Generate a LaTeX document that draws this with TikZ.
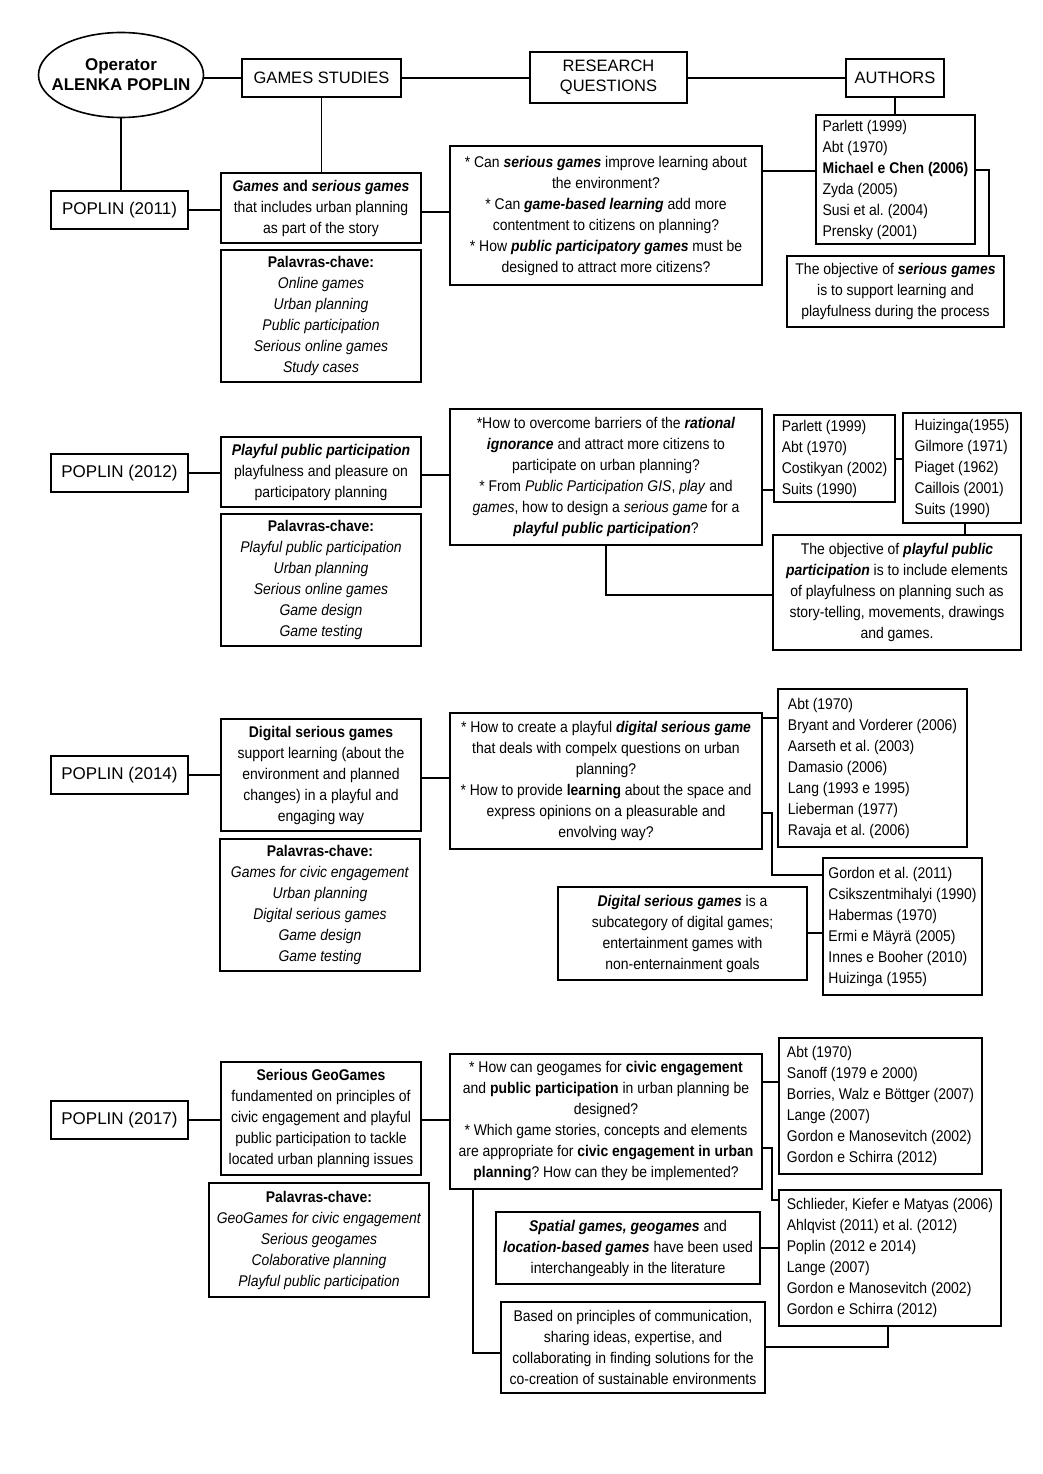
\documentclass[tikz,border=0pt]{standalone}
\usepackage{fontspec}
\setmainfont{Liberation Sans}[FakeStretch=0.9]
\newfontfamily\hdrfont{Liberation Sans}
\usetikzlibrary{shapes.geometric}
\newcommand\bi[1]{\textbf{\textit{#1}}}
\frenchspacing
\begin{document}
\begin{tikzpicture}[x=1pt,y=-1pt,
  bx/.style={draw=black,line width=1.6pt,inner sep=0pt,align=center,
    font=\fontsize{15.5}{21}\selectfont},
  lbx/.style={bx,align=left},
  hbx/.style={draw=black,line width=1.6pt,inner sep=0pt,align=center,
    font=\hdrfont\fontsize{16.5}{20}\selectfont},
  pbx/.style={hbx,minimum width=137,minimum height=38,font=\hdrfont\fontsize{17}{20}\selectfont},
  conn/.style={line width=1.6pt,draw=black}]
\fill[white] (0,0) rectangle (1043,1474);
\useasboundingbox (0,0) rectangle (1043,1474);

% header
\node[ellipse,draw=black,line width=1.6pt,minimum width=165,minimum height=85,inner sep=0pt] (op) at (121,75) {};
\node[align=center,inner sep=0pt,font=\hdrfont\bfseries\fontsize{17}{20}\selectfont] (optext) at (op.center) {Operator\\ALENKA POPLIN};
\node[hbx,minimum width=159,minimum height=38] (gs) at (321.5,78) {GAMES STUDIES};
\node[hbx,minimum width=157,minimum height=51] (rq) at (608.5,77.5) {RESEARCH\\QUESTIONS};
\node[hbx,minimum width=98,minimum height=38] (au) at (895,78) {AUTHORS};

% 2011
\node[pbx] (p11) at (119.5,210) {POPLIN (2011)};
\node[bx,minimum width=200,minimum height=70] (g11) at (321,208) {\bi{Games} \textbf{and} \bi{serious games}\\that includes urban planning\\as part of the story};
\node[bx,minimum width=200,minimum height=132] (k11) at (321,316) {\textbf{Palavras-chave:}\\\textit{Online games}\\\textit{Urban planning}\\\textit{Public participation}\\\textit{Serious online games}\\\textit{Study cases}};
\node[bx,minimum width=312,minimum height=139] (q11) at (606,215.5) {* Can \bi{serious games} improve learning about\\the environment?\\* Can \bi{game-based learning} add more\\contentment to citizens on planning?\\* How \bi{public participatory games} must be\\designed to attract more citizens?};
\node[lbx,minimum width=159,minimum height=129] (a11) at (895.5,179.5) {Parlett (1999)\\Abt (1970)\\\textbf{Michael e Chen (2006)}\\Zyda (2005)\\Susi et al. (2004)\\Prensky (2001)};
\node[bx,minimum width=217,minimum height=71] (o11) at (895.5,291.5) {The objective of \bi{serious games}\\is to support learning and\\playfulness during the process};

% 2012
\node[pbx] (p12) at (119.5,473) {POPLIN (2012)};
\node[bx,minimum width=200,minimum height=70] (g12) at (321,472) {\bi{Playful public participation}\\playfulness and pleasure on\\participatory planning};
\node[bx,minimum width=200,minimum height=132] (k12) at (321,580) {\textbf{Palavras-chave:}\\\textit{Playful public participation}\\\textit{Urban planning}\\\textit{Serious online games}\\\textit{Game design}\\\textit{Game testing}};
\node[bx,minimum width=312,minimum height=136] (q12) at (606,477) {*How to overcome barriers of the \bi{rational}\\\bi{ignorance} and attract more citizens to\\participate on urban planning?\\* From \textit{Public Participation GIS}, \textit{play} and\\\textit{games}, how to design a \textit{serious game} for a\\\bi{playful public participation}?};
\node[lbx,minimum width=121,minimum height=87] (a12a) at (834.5,458.5) {Parlett (1999)\\Abt (1970)\\Costikyan (2002)\\Suits (1990)};
\node[lbx,minimum width=118,minimum height=110] (a12b) at (962,468) {Huizinga(1955)\\Gilmore (1971)\\Piaget (1962)\\Caillois (2001)\\Suits (1990)};
\node[bx,minimum width=248,minimum height=115] (o12) at (897,592.5) {The objective of \bi{playful public}\\\bi{participation} is to include elements\\of playfulness on planning such as\\story-telling, movements, drawings\\and games.};

% 2014
\node[pbx] (p14) at (119.5,775) {POPLIN (2014)};
\node[bx,minimum width=200,minimum height=112] (g14) at (321,775) {\textbf{Digital serious games}\\support learning (about the\\environment and planned\\changes) in a playful and\\engaging way};
\node[bx,minimum width=200,minimum height=132] (k14) at (320,905) {\textbf{Palavras-chave:}\\\textit{Games for civic engagement}\\\textit{Urban planning}\\\textit{Digital serious games}\\\textit{Game design}\\\textit{Game testing}};
\node[bx,minimum width=312,minimum height=136] (q14) at (606,781) {* How to create a playful \bi{digital serious game}\\that deals with compelx questions on urban\\planning?\\* How to provide \textbf{learning} about the space and\\express opinions on a pleasurable and\\envolving way?};
\node[lbx,minimum width=189,minimum height=158] (a14a) at (872.5,768) {Abt (1970)\\Bryant and Vorderer (2006)\\Aarseth et al. (2003)\\Damasio (2006)\\Lang (1993 e 1995)\\Lieberman (1977)\\Ravaja et al. (2006)};
\node[lbx,minimum width=159,minimum height=137] (a14b) at (902.5,926.5) {Gordon et al. (2011)\\Csikszentmihalyi (1990)\\Habermas (1970)\\Ermi e Mäyrä (2005)\\Innes e Booher (2010)\\Huizinga (1955)};
\node[bx,minimum width=249,minimum height=93] (d14) at (682.5,933.5) {\bi{Digital serious games} is a\\subcategory of digital games;\\entertainment games with\\non-enternainment goals};

% 2017
\node[pbx] (p17) at (119.5,1120) {POPLIN (2017)};
\node[bx,minimum width=200,minimum height=113] (g17) at (321,1118.5) {\textbf{Serious GeoGames}\\fundamented on principles of\\civic engagement and playful\\public participation to tackle\\located urban planning issues};
\node[bx,minimum width=220,minimum height=114] (k17) at (319,1240) {\textbf{Palavras-chave:}\\\textit{GeoGames for civic engagement}\\\textit{Serious geogames}\\\textit{Colaborative planning}\\\textit{Playful public participation}};
\node[bx,minimum width=312,minimum height=135] (q17) at (606,1121.5) {* How can geogames for \textbf{civic engagement}\\and \textbf{public participation} in urban planning be\\designed?\\* Which game stories, concepts and elements\\are appropriate for \textbf{civic engagement in urban}\\\textbf{planning}? How can they be implemented?};
\node[lbx,minimum width=203,minimum height=136] (a17a) at (880.5,1106) {Abt (1970)\\Sanoff (1979 e 2000)\\Borries, Walz e Böttger (2007)\\Lange (2007)\\Gordon e Manosevitch (2002)\\Gordon e Schirra (2012)};
\node[lbx,minimum width=222,minimum height=136] (a17b) at (890,1258) {Schlieder, Kiefer e Matyas (2006)\\Ahlqvist (2011) et al. (2012)\\Poplin (2012 e 2014)\\Lange (2007)\\Gordon e Manosevitch (2002)\\Gordon e Schirra (2012)};
\node[bx,minimum width=264,minimum height=72] (s17) at (628,1248) {\bi{Spatial games, geogames} and\\\bi{location-based games} have been used\\interchangeably in the literature};
\node[bx,minimum width=264,minimum height=91] (b17) at (633,1347.5) {Based on principles of communication,\\sharing ideas, expertise, and\\collaborating in finding solutions for the\\co-creation of sustainable environments};

% connectors: header
\draw[conn] (gs.west -| op.east) -- (gs.west);
\draw[conn] (gs.east) -- (gs.east -| rq.west);
\draw[conn] (rq.east |- au.west) -- (au.west);
\draw[conn] (op.south) -- (op.south |- p11.north);
\draw[conn] (gs.south) -- (gs.south |- g11.north);
\draw[conn] (au.south) -- (au.south |- a11.north);
% 2011
\draw[conn] (p11.east) -- (p11.east -| g11.west);
\draw[conn] (g11.east |- 0,212) -- (q11.west |- 0,212);
\draw[conn] (q11.east |- 0,171) -- (a11.west |- 0,171);
\draw[conn] (a11.east |- 0,170) -| (989,0 |- o11.north);
% 2012
\draw[conn] (p12.east) -- (p12.east -| g12.west);
\draw[conn] (g12.east |- 0,475) -- (q12.west |- 0,475);
\draw[conn] (q12.east |- 0,490) -- (a12a.west |- 0,490);
\draw[conn] (a12a.east |- 0,459) -- (a12b.west |- 0,459);
\draw[conn] (965,0 |- a12b.south) -- (965,0 |- o12.north);
\draw[conn] (606,0 |- q12.south) |- (o12.west |- 0,595);
% 2014
\draw[conn] (p14.east) -- (p14.east -| g14.west);
\draw[conn] (g14.east |- 0,778) -- (q14.west |- 0,778);
\draw[conn] (q14.east |- 0,718) -- (a14a.west |- 0,718);
\draw[conn] (q14.east |- 0,813) -- (772,813) |- (a14b.west |- 0,875);
\draw[conn] (d14.east |- 0,933) -- (a14b.west |- 0,933);
% 2017
\draw[conn] (p17.east) -- (p17.east -| g17.west);
\draw[conn] (g17.east |- 0,1120) -- (q17.west |- 0,1120);
\draw[conn] (q17.east |- 0,1082) -- (a17a.west |- 0,1082);
\draw[conn] (q17.east |- 0,1148) -- (772,1148) |- (a17b.west |- 0,1200);
\draw[conn] (s17.east |- 0,1248) -- (a17b.west |- 0,1248);
\draw[conn] (473,0 |- q17.south) |- (b17.west |- 0,1353);
\draw[conn] (888,0 |- a17b.south) |- (b17.east |- 0,1347);
\end{tikzpicture}
\end{document}
